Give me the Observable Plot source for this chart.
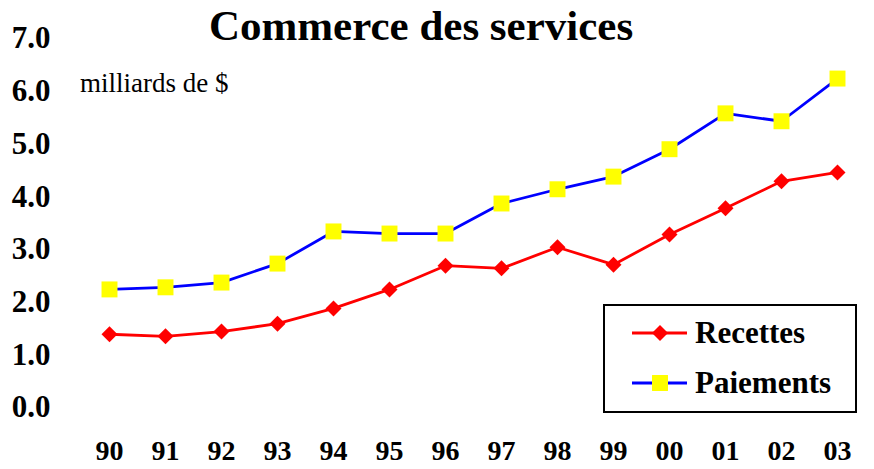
<!DOCTYPE html>
<html>
<head>
<meta charset="utf-8">
<script src="https://cdn.jsdelivr.net/npm/d3@7"></script>
<script src="https://cdn.jsdelivr.net/npm/@observablehq/plot@0.6"></script>
<style>
  html, body { margin: 0; padding: 0; background: #fff; }
  #chart { width: 874px; height: 469px; }
  svg { font-family: "Liberation Serif", "Times New Roman", serif; }
</style>
</head>
<body>
<div id="chart"></div>
<script>
const years = ["90","91","92","93","94","95","96","97","98","99","00","01","02","03"];
const recettes = [1.39, 1.35, 1.44, 1.59, 1.88, 2.24, 2.69, 2.64, 3.04, 2.71, 3.28, 3.78, 4.29, 4.46];
const paiements = [2.24, 2.28, 2.37, 2.73, 3.34, 3.30, 3.30, 3.87, 4.14, 4.38, 4.90, 5.58, 5.43, 6.24];
const yTicks = [0, 1, 2, 3, 4, 5, 6, 7];
const seriesNames = ["Recettes", "Paiements"];
const title = "Commerce des services";
const unitLabel = "milliards de $";

const rec = years.map((y, i) => ({year: y, value: recettes[i]}));
const pai = years.map((y, i) => ({year: y, value: paiements[i]}));

const plot = Plot.plot({
  width: 874,
  height: 469,
  marginTop: 38,
  marginBottom: 62,
  marginLeft: 103,
  marginRight: 31,
  x: {type: "point", domain: years, padding: 0},
  y: {domain: [0, 7]},
  style: {fontFamily: "'Liberation Serif', 'Times New Roman', serif", background: "#fff", overflow: "visible"},
  marks: [
    Plot.axisY({ticks: yTicks, tickSize: 0, tickPadding: 53, tickFormat: d => d.toFixed(1),
      fontSize: 31, fontWeight: "bold", fill: "#000", label: null}),
    Plot.axisX({tickSize: 0, tickPadding: 33, fontSize: 28, fontWeight: "bold", fill: "#000", label: null}),
    Plot.line(pai, {x: "year", y: "value", stroke: "#0000ff", strokeWidth: 2.8}),
    Plot.line(rec, {x: "year", y: "value", stroke: "#ff0000", strokeWidth: 2.8}),
    Plot.dot(pai, {x: "year", y: "value", symbol: "square", r: 9, fill: "#ffff00", stroke: null}),
    Plot.dot(rec, {x: "year", y: "value", symbol: "diamond2", r: 7.2, fill: "#ff0000", stroke: null})
  ]
});
document.getElementById("chart").appendChild(plot);

const svg = d3.select(plot);
svg.append("text").attr("x", 421).attr("y", 40).attr("text-anchor", "middle")
  .attr("font-size", 43).attr("font-weight", "bold").attr("fill", "#000").text(title);
svg.append("text").attr("x", 80).attr("y", 92).attr("text-anchor", "start")
  .attr("font-size", 27).attr("fill", "#000").text(unitLabel);

// legend
const lg = svg.append("g");
lg.append("rect").attr("x", 604).attr("y", 305).attr("width", 252).attr("height", 107)
  .attr("fill", "#fff").attr("stroke", "#000").attr("stroke-width", 2);
const items = [
  {name: seriesNames[0], y: 333, stroke: "#ff0000", fill: "#ff0000", sym: d3.symbolDiamond2, size: Math.PI * 7.2 * 7.2},
  {name: seriesNames[1], y: 383, stroke: "#0000ff", fill: "#ffff00", sym: d3.symbolSquare, size: Math.PI * 9 * 9}
];
for (const it of items) {
  lg.append("line").attr("x1", 632).attr("x2", 687).attr("y1", it.y).attr("y2", it.y)
    .attr("stroke", it.stroke).attr("stroke-width", 2.8);
  lg.append("path").attr("d", d3.symbol(it.sym, it.size)()).attr("transform", `translate(660,${it.y})`)
    .attr("fill", it.fill);
  lg.append("text").attr("x", 695).attr("y", it.y + 10).attr("text-anchor", "start")
    .attr("font-size", 31).attr("font-weight", "bold")
    .attr("fill", "#000").text(it.name);
}
</script>
</body>
</html>
